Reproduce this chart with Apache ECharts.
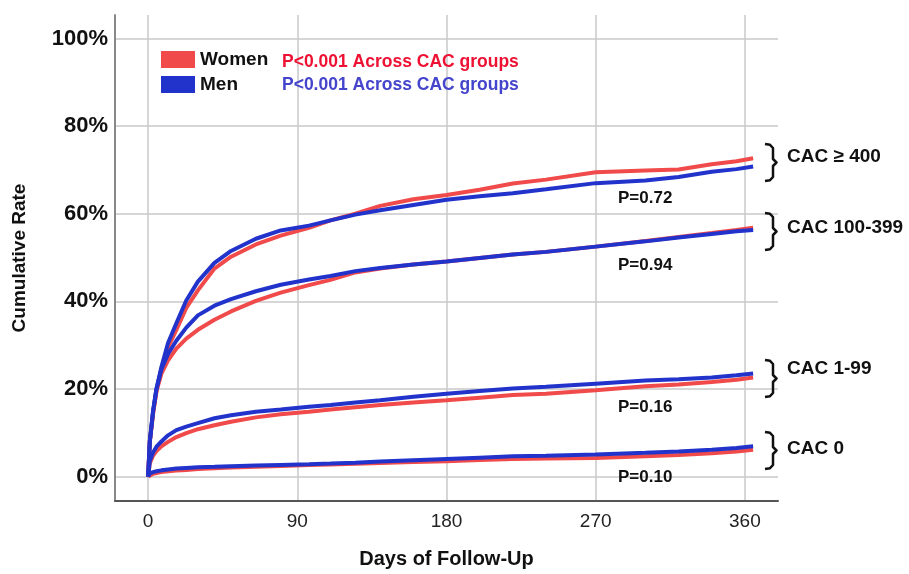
<!DOCTYPE html>
<html>
<head>
<meta charset="utf-8">
<script src="https://cdn.jsdelivr.net/npm/echarts@6/dist/echarts.min.js"></script>
<style>
  html, body { margin: 0; padding: 0; background: #fff; }
  #chart { width: 909px; height: 574px; }
</style>
</head>
<body>
<div id="chart"></div>
<script>
// follow-up days shared by every curve
const days = [0, 1, 3, 5, 8, 12, 17, 23, 30, 40, 50, 65, 80, 97, 110, 125, 140, 160, 180, 200, 220, 240, 270, 300, 320, 340, 355, 365];
const xTicks = [0, 90, 180, 270, 360];
const yTicks = [0, 20, 40, 60, 80, 100];

// cumulative rate (%)
const women400 = [0, 8, 14.5, 19.5, 24.5, 29.5, 33.5, 38.5, 42.5, 47.5, 50.2, 53, 55, 56.8, 58.5, 60, 61.8, 63.3, 64.3, 65.5, 66.9, 67.8, 69.5, 69.9, 70.1, 71.3, 72, 72.7];
const men400 = [0, 8, 15, 20, 25, 30.5, 35, 40.2, 44.5, 48.8, 51.5, 54.3, 56.2, 57.3, 58.5, 59.8, 60.8, 62, 63.2, 64, 64.7, 65.6, 67, 67.6, 68.4, 69.6, 70.2, 70.8];
const women100 = [0, 8, 14.5, 19.5, 23.5, 26.5, 29.2, 31.5, 33.5, 35.8, 37.7, 40.1, 42, 43.7, 44.9, 46.6, 47.5, 48.4, 49.1, 49.9, 50.7, 51.3, 52.5, 53.8, 54.7, 55.6, 56.3, 56.8];
const men100 = [0, 8, 15, 20, 24.5, 28, 31, 34, 36.8, 39, 40.5, 42.3, 43.8, 45, 45.8, 46.9, 47.6, 48.4, 49.1, 49.9, 50.7, 51.3, 52.5, 53.7, 54.6, 55.4, 56, 56.3];
const women1 = [0, 3, 4.8, 5.8, 6.9, 7.9, 9, 9.9, 10.8, 11.7, 12.5, 13.5, 14.2, 14.8, 15.3, 15.8, 16.3, 16.9, 17.4, 18, 18.6, 18.9, 19.7, 20.6, 21, 21.6, 22.1, 22.6];
const men1 = [0, 3.5, 5.5, 6.8, 8, 9.4, 10.6, 11.4, 12.2, 13.3, 14, 14.8, 15.3, 15.9, 16.3, 16.9, 17.4, 18.2, 18.9, 19.5, 20.1, 20.5, 21.2, 21.9, 22.2, 22.6, 23.1, 23.5];
const women0 = [0, 0.3, 0.6, 0.8, 1, 1.2, 1.35, 1.5, 1.7, 1.9, 2.05, 2.25, 2.4, 2.6, 2.75, 2.9, 3.1, 3.3, 3.5, 3.75, 4, 4.1, 4.2, 4.6, 4.9, 5.3, 5.7, 6.1];
const men0 = [0, 0.7, 1, 1.2, 1.4, 1.6, 1.8, 1.95, 2.1, 2.2, 2.35, 2.5, 2.65, 2.8, 2.95, 3.15, 3.4, 3.7, 4, 4.3, 4.6, 4.75, 5, 5.4, 5.7, 6.1, 6.5, 6.9];

const groupLabels = ['CAC \u2265 400', 'CAC 100-399', 'CAC 1-99', 'CAC 0'];
const pValues = ['P=0.72', 'P=0.94', 'P=0.16', 'P=0.10'];
const womenCurves = [women400, women100, women1, women0];
const menCurves = [men400, men100, men1, men0];

const RED = '#f04a4a';
const BLUE = '#2233cc';
const FONT = 'Liberation Sans, Arial, sans-serif';

const chart = echarts.init(document.getElementById('chart'));

const toPairs = arr => days.map((d, i) => [d, arr[i]]);

const series = [];
womenCurves.forEach(c => {
    series.push({
        name: 'Women', type: 'line', data: toPairs(c), symbol: 'none',
        lineStyle: { width: 4, color: RED }, itemStyle: { color: RED }, z: 2
    });
});
menCurves.forEach(c => {
    series.push({
        name: 'Men', type: 'line', data: toPairs(c), symbol: 'none',
        lineStyle: { width: 4, color: BLUE }, itemStyle: { color: BLUE }, z: 3
    });
});

// right-side brace outline
const bracePoints = [[0, 0], [5, 0.8], [8, 4], [8, 15], [11.5, 18.5], [8, 22], [8, 33], [5, 36.2], [0, 37]];
const bracketTops = [144, 213, 360, 432];
const labelCenters = [158, 229, 370, 450];
const pCenters = [200, 267, 409, 479];

const graphic = [];
bracketTops.forEach((t, i) => {
    graphic.push({
        type: 'polyline', x: 765, y: t, z: 10,
        shape: { points: bracePoints },
        style: { fill: null, stroke: '#111', lineWidth: 2.5, lineJoin: 'round' }
    });
    graphic.push({
        type: 'text', left: 787, top: labelCenters[i] - 11, z: 10,
        style: { text: groupLabels[i], fill: '#111', font: 'bold 19px ' + FONT }
    });
    graphic.push({
        type: 'text', left: 618, top: pCenters[i] - 10, z: 10,
        style: { text: pValues[i], fill: '#111', font: 'bold 17px ' + FONT }
    });
});
graphic.push({
    type: 'text', left: 282, top: 53, z: 10,
    style: { text: 'P<0.001 Across CAC groups', fill: '#ee1133', font: 'bold 17.5px ' + FONT }
});
graphic.push({
    type: 'text', left: 282, top: 76, z: 10,
    style: { text: 'P<0.001 Across CAC groups', fill: '#4444cc', font: 'bold 17.5px ' + FONT }
});

const option = {
    animation: false,
    backgroundColor: '#fff',
    grid: { left: 115, right: 131, top: 15, bottom: 69 },
    legend: {
        data: ['Women', 'Men'],
        orient: 'vertical',
        left: 161, top: 50, padding: 0,
        itemWidth: 34, itemHeight: 17, itemGap: 6,
        icon: 'rect',
        textStyle: { fontFamily: FONT, fontSize: 19, fontWeight: 'bold', color: '#111' }
    },
    xAxis: {
        type: 'value', min: -20, max: 380,
        name: 'Days of Follow-Up', nameLocation: 'middle', nameGap: 48,
        nameTextStyle: { fontFamily: FONT, fontSize: 20, fontWeight: 'bold', color: '#111' },
        axisLine: { onZero: false, lineStyle: { color: '#555', width: 2 } },
        axisTick: { show: false, customValues: xTicks },
        axisLabel: { customValues: xTicks, fontFamily: FONT, fontSize: 19, color: '#222', margin: 11 },
        splitLine: { show: true, lineStyle: { color: '#c8c8c8', width: 1.5 } }
    },
    yAxis: {
        type: 'value', min: -5.6, max: 105.4,
        name: 'Cumulative Rate', nameLocation: 'middle', nameGap: 86,
        nameTextStyle: { fontFamily: FONT, fontSize: 19, fontWeight: 'bold', color: '#111' },
        axisLine: { show: true, onZero: false, lineStyle: { color: '#888', width: 2 } },
        axisTick: { show: false, customValues: yTicks },
        axisLabel: {
            customValues: yTicks, fontFamily: FONT, fontSize: 22, fontWeight: 'bold', color: '#111', margin: 7,
            formatter: v => v + '%'
        },
        splitLine: { show: true, lineStyle: { color: '#c8c8c8', width: 1.5 } }
    },
    series: series,
    graphic: graphic
};

chart.setOption(option);
</script>
</body>
</html>
